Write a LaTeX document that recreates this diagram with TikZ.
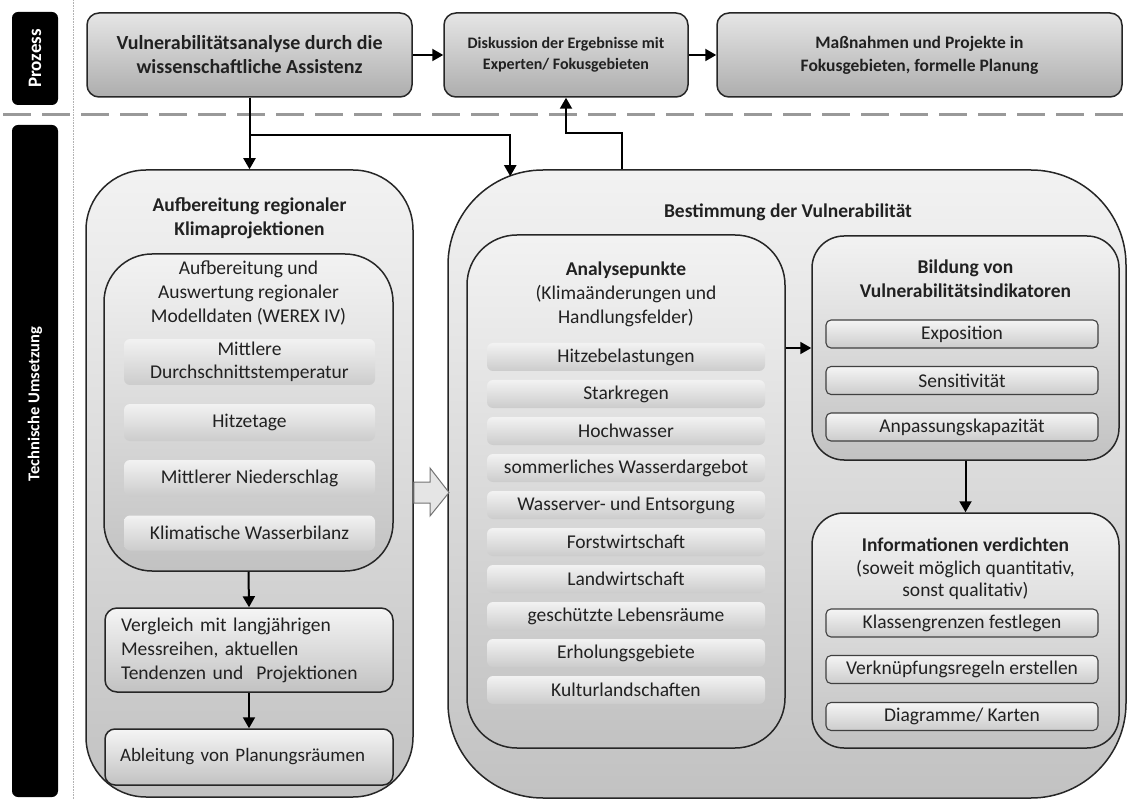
\documentclass[tikz,border=0pt]{standalone}
\usepackage{fontspec}
\setmainfont{Carlito}
\usetikzlibrary{arrows.meta,calc}

\definecolor{ink}{gray}{0.13}
\definecolor{procTop}{gray}{0.90}
\definecolor{procBot}{gray}{0.68}
\definecolor{contTop}{gray}{0.95}
\definecolor{contBot}{gray}{0.76}
\definecolor{barTop}{gray}{0.95}
\definecolor{barBot}{gray}{0.80}
\definecolor{itemTop}{gray}{0.96}
\definecolor{itemBot}{gray}{0.80}

\tikzset{
  txt/.style={font=\fontsize{19.5}{24}\selectfont, text=ink, align=center, inner sep=0pt},
  bold/.style={txt, font=\fontsize{19.5}{24}\selectfont\bfseries},
  proc/.style={bold, draw=black!85, line width=1.5pt, rounded corners=12pt,
    top color=procTop, bottom color=procBot},
  cont/.style={draw=black!85, line width=1.5pt, top color=contTop, bottom color=contBot},
  bar/.style={txt, rounded corners=6pt, top color=barTop, bottom color=barBot},
  item/.style={txt, draw=black!75, line width=1.1pt, rounded corners=5pt,
    top color=itemTop, bottom color=itemBot},
  lane/.style={fill=black, rounded corners=6pt, inner sep=0pt},
  lanetext/.style={text=white, font=\fontsize{16.5}{19}\selectfont\bfseries, rotate=90, inner sep=0pt},
  arr/.style={-{Triangle[length=11pt,width=12pt]}, line width=2pt, draw=black},
  blockarr/.style={draw=black!55, line width=1pt, fill=black!10, line join=miter}
}

\begin{document}
\begin{tikzpicture}[x=1pt,y=-1pt]
\useasboundingbox (0,0) rectangle (1127,799);

% lanes on the left
\node[lane, minimum width=46pt, minimum height=93pt] (laneP) at (35,58.5) {};
\node[lanetext, font=\fontsize{19}{22}\selectfont\bfseries] (lanePtxt) at (35,58.5) {Prozess};
\node[lane, minimum width=46pt, minimum height=672pt] (laneT) at (35,461) {};
\node[lanetext] (laneTtxt) at (35,404) {Technische Umsetzung};

% thin dotted divider and dashed separator
\coordinate (vtop) at (73,0);
\coordinate (vbot) at (73,799);
\draw[black!30, densely dotted, line width=0.6pt] (vtop) -- (vbot);
\coordinate (sepL) at (3,115);
\coordinate (sepR) at (1127,115);
\draw[black!40, line width=3pt, dash pattern=on 28pt off 11pt] (sepL) -- (sepR);

% process row
\node[proc, minimum width=325pt, minimum height=84pt, font=\fontsize{20}{24}\selectfont\bfseries] (p1) at (249.5,55)
  {Vulnerabilitätsanalyse durch die\\wissenschaftliche Assistenz};
\node[proc, minimum width=244pt, minimum height=84pt, font=\fontsize{16}{21}\selectfont\bfseries] (p2) at (566,55)
  {Diskussion der Ergebnisse mit\\Experten/ Fokusgebieten};
\node[proc, minimum width=405pt, minimum height=84pt, font=\fontsize{17.5}{23}\selectfont\bfseries] (p3) at (919.5,55)
  {Maßnahmen und Projekte in\\Fokusgebieten, formelle Planung};

% left column: regional climate projections
\node[cont, rounded corners=60pt, minimum width=327pt, minimum height=627pt] (klima) at (249.5,483.5) {};
\node[bold] (klimaT) at (249.5,218) {Aufbereitung regionaler\\Klimaprojektionen};
\node[cont, rounded corners=48pt, minimum width=289pt, minimum height=317pt] (werex) at (248.5,412.5) {};
\node[txt] (werexT) at (248.5,293) {Aufbereitung und\\Auswertung regionaler\\Modelldaten (WEREX IV)};
\node[bar, minimum width=251pt, minimum height=46pt, font=\fontsize{19.5}{22.5}\selectfont] (w1) at (249.5,362) {Mittlere\\Durchschnittstemperatur};
\node[bar, minimum width=251pt, minimum height=37pt] (w2) at (249.5,422.5) {Hitzetage};
\node[bar, minimum width=251pt, minimum height=36pt] (w3) at (249.5,478) {Mittlerer Niederschlag};
\node[bar, minimum width=251pt, minimum height=35pt] (w4) at (249.5,533) {Klimatische Wasserbilanz};

\node[txt, draw=black!85, line width=1.5pt, rounded corners=12pt, top color=itemTop, bottom color=contBot,
  align=left, text width=264pt, inner xsep=12pt, minimum height=84pt] (vgl) at (249,650)
  {\hspace*{4pt}Vergleich mit langjährigen\\\hspace*{4pt}Messreihen, aktuellen\\\hspace*{4pt}Tendenzen und~ Projektionen};
\node[txt, draw=black!85, line width=1.5pt, rounded corners=10pt, top color=itemTop, bottom color=contBot,
  align=left, text width=264pt, inner xsep=12pt, minimum height=56pt, font=\fontsize{19}{23}\selectfont] (abl) at (249,757)
  {\hspace*{3pt}Ableitung von Planungsräumen};

% right part: vulnerability assessment
\node[cont, rounded corners=95pt, minimum width=678pt, minimum height=628pt] (best) at (787,484) {};
\node[bold] (bestT) at (788,212) {Bestimmung der Vulnerabilität};

\node[cont, rounded corners=50pt, minimum width=318pt, minimum height=513pt] (ana) at (626,491.5) {};
\node[txt] (anaT) at (626,294) {\textbf{Analysepunkte}\\(Klimaänderungen und\\Handlungsfelder)};
\foreach \lbl [count=\i from 0] in {Hitzebelastungen, Starkregen, Hochwasser,
    sommerliches Wasserdargebot, Wasserver- und Entsorgung, Forstwirtschaft,
    Landwirtschaft, geschützte Lebensräume, Erholungsgebiete, Kulturlandschaften}
  \node[bar, minimum width=278pt, minimum height=28pt] (a\i) at (626,357+37*\i) {\lbl};

\node[cont, rounded corners=32pt, minimum width=307pt, minimum height=224pt] (bild) at (965.5,348) {};
\node[bold] (bildT) at (965.5,279) {Bildung von\\Vulnerabilitätsindikatoren};
\node[item, minimum width=272pt, minimum height=28pt] (b1) at (962,334) {Exposition};
\node[item, minimum width=272pt, minimum height=28pt] (b2) at (962,380.5) {Sensitivität};
\node[item, minimum width=272pt, minimum height=28pt] (b3) at (962,427) {Anpassungskapazität};

\node[cont, rounded corners=32pt, minimum width=307pt, minimum height=235pt] (info) at (965.5,630.5) {};
\node[txt, font=\fontsize{19.5}{22.5}\selectfont] (infoT) at (965.5,569) {\textbf{Informationen verdichten}\\(soweit möglich quantitativ,\\sonst qualitativ)};
\node[item, minimum width=272pt, minimum height=28pt] (i1) at (962,623) {Klassengrenzen festlegen};
\node[item, minimum width=272pt, minimum height=28pt] (i2) at (962,669.5) {Verknüpfungsregeln erstellen};
\node[item, minimum width=272pt, minimum height=28pt] (i3) at (962,716.5) {Diagramme/ Karten};

% connectors
\draw[arr] (p1) -- (p2);
\draw[arr] (p2) -- (p3);
\draw[arr] (p1.south) -- (klima.north);
\coordinate (split) at ($(p1.south)+(0,37)$);
\draw[arr] (split) -| ($(best.north west)+(63,7)$);
\coordinate (upx) at (622,0);
\draw[arr] (best.north -| upx) -- ++(0,-36) -| (p2.south);
\draw[arr] (werex.south) -- (vgl.north);
\draw[arr] (vgl.south) -- (abl.north);
\coordinate (anaOut) at (ana.east |- 0,348);
\draw[arr] (anaOut) -- (bild.west |- anaOut);
\draw[arr] (bild.south) -- (info.north);

% hollow block arrow from the projections into the assessment
\draw[blockarr] ($(klima.east |- 0,482)$) -- (430,482) -- (430,468) -- (449,492.5)
  -- (430,516) -- (430,503) -- ($(klima.east |- 0,503)$) -- cycle;
\end{tikzpicture}
\end{document}
